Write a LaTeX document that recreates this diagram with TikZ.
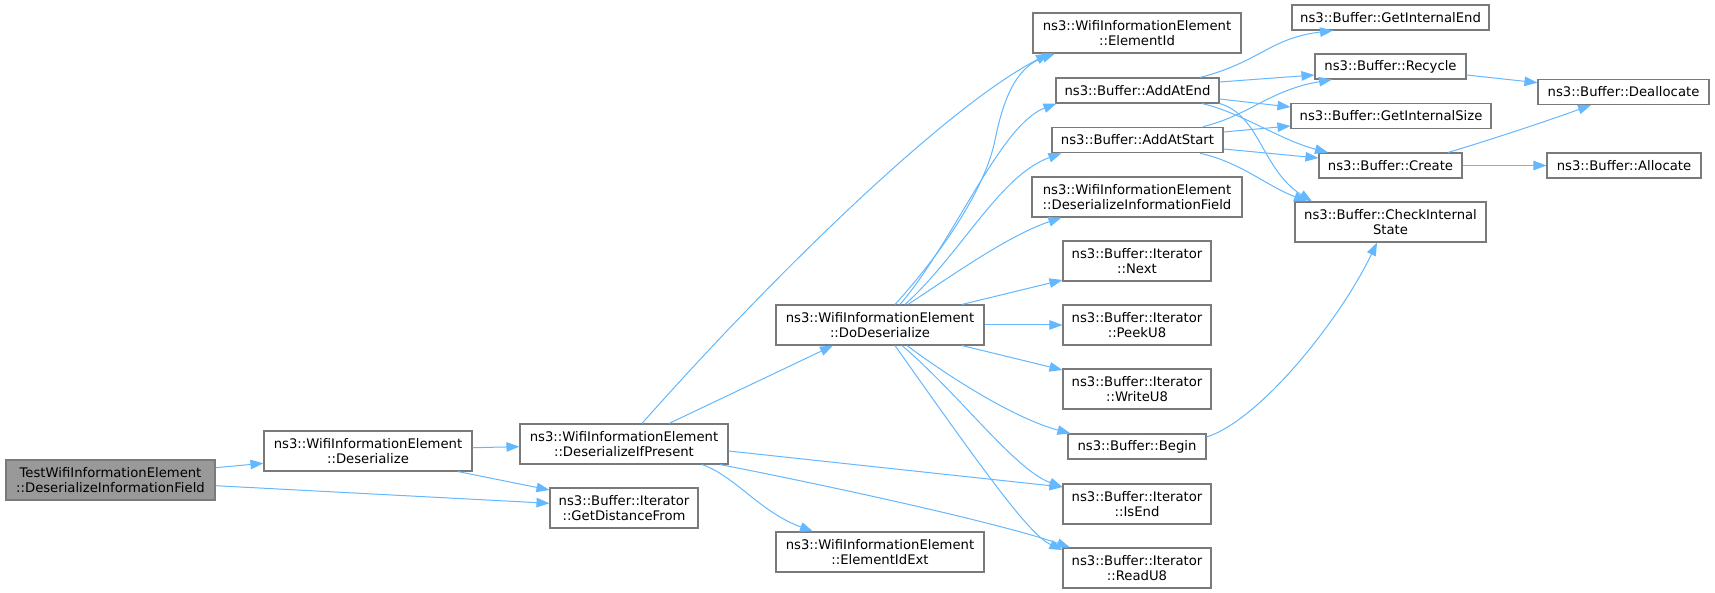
\documentclass[tikz,border=0pt]{standalone}
\usepackage{fontspec}
\setmainfont{DejaVu Sans}
\usetikzlibrary{arrows.meta,calc}
\definecolor{edgecol}{HTML}{63B8FF}
\definecolor{bordercol}{HTML}{7A7A7A}
\definecolor{rootfill}{HTML}{999999}
\begin{document}
\begin{tikzpicture}[x=1pt,y=-1pt,
  box/.style={draw=bordercol,fill=white,line width=1.1pt,align=center,inner sep=0pt,
    font=\fontsize{13.2pt}{14.6pt}\selectfont},
  rootbox/.style={box,fill=rootfill},
  edge/.style={draw=edgecol,line width=1pt,-{Triangle[length=13pt,width=9.5pt]}}]
\useasboundingbox[fill=white] (0,0) rectangle (1715,593);
% column 1-3
\node[rootbox,minimum width=209pt,minimum height=40pt] (Test) at (110.5,480) {TestWifiInformationElement\\::DeserializeInformationField};
\node[box,minimum width=208pt,minimum height=40pt] (Deser) at (368,451) {ns3::WifiInformationElement\\::Deserialize};
\node[box,minimum width=208pt,minimum height=40pt] (DIP) at (624,444) {ns3::WifiInformationElement\\::DeserializeIfPresent};
\node[box,minimum width=148pt,minimum height=40pt] (GDF) at (624,508) {ns3::Buffer::Iterator\\::GetDistanceFrom};
% column 4
\node[box,minimum width=208pt,minimum height=40pt] (DoD) at (880,325) {ns3::WifiInformationElement\\::DoDeserialize};
\node[box,minimum width=208pt,minimum height=40pt] (EIdExt) at (880,552) {ns3::WifiInformationElement\\::ElementIdExt};
% column 5
\node[box,minimum width=208pt,minimum height=40pt] (EId) at (1137,33) {ns3::WifiInformationElement\\::ElementId};
\node[box,minimum width=163pt,minimum height=25pt] (AddEnd) at (1137.5,90.5) {ns3::Buffer::AddAtEnd};
\node[box,minimum width=171pt,minimum height=25.5pt] (AddStart) at (1137.5,140) {ns3::Buffer::AddAtStart};
\node[box,minimum width=210pt,minimum height=40pt] (DIF) at (1137,197) {ns3::WifiInformationElement\\::DeserializeInformationField};
\node[box,minimum width=148pt,minimum height=40pt] (Next) at (1137,261) {ns3::Buffer::Iterator\\::Next};
\node[box,minimum width=148pt,minimum height=40pt] (Peek) at (1137,325) {ns3::Buffer::Iterator\\::PeekU8};
\node[box,minimum width=148pt,minimum height=40pt] (Write) at (1137,389) {ns3::Buffer::Iterator\\::WriteU8};
\node[box,minimum width=138pt,minimum height=25pt] (Begin) at (1137,446.5) {ns3::Buffer::Begin};
\node[box,minimum width=148pt,minimum height=40pt] (IsEnd) at (1137,504) {ns3::Buffer::Iterator\\::IsEnd};
\node[box,minimum width=148pt,minimum height=40pt] (Read) at (1137,568) {ns3::Buffer::Iterator\\::ReadU8};
% column 6
\node[box,minimum width=197pt,minimum height=25pt] (GIE) at (1390.5,17.5) {ns3::Buffer::GetInternalEnd};
\node[box,minimum width=151pt,minimum height=25pt] (Recycle) at (1390.5,66.5) {ns3::Buffer::Recycle};
\node[box,minimum width=200pt,minimum height=25.5pt] (GIS) at (1391,116) {ns3::Buffer::GetInternalSize};
\node[box,minimum width=143pt,minimum height=25pt] (Create) at (1390.5,165.5) {ns3::Buffer::Create};
\node[box,minimum width=191pt,minimum height=40pt] (CIS) at (1390.5,222) {ns3::Buffer::CheckInternal\\State};
% column 7
\node[box,minimum width=171pt,minimum height=25pt] (Dealloc) at (1623.5,92) {ns3::Buffer::Deallocate};
\node[box,minimum width=154pt,minimum height=25pt] (Alloc) at (1624,165.5) {ns3::Buffer::Allocate};
% edges
\draw[edge] ($(Test.east)+(0,-12.3)$) -- ($(Deser.west)+(0,12.3)$);
\draw[edge] ($(Test.east)+(0,5.7)$) -- ($(GDF.west)+(0,-4.7)$);
\draw[edge] ($(Deser.east)+(0,-3.3)$) -- ($(DIP.west)+(0,2.7)$);
\draw[edge] ($(Deser.south)+(90,0)$) -- ($(GDF.west)+(0,-18)$);
\draw[edge] ($(DIP.north)+(45,0)$) -- ($(DoD.south)+(-47,0)$);
\draw[edge] ($(DIP.north)+(18,0)$) .. controls (760,290) and (940,110) .. ($(EId.south)+(-88,0)$);
\draw[edge] ($(DIP.south)+(78,0)$) .. controls (735,476) and (760,512) .. ($(EIdExt.north)+(-67,0)$);
\draw[edge] ($(DIP.east)+(0,7)$) -- ($(IsEnd.west)+(0,-17)$);
\draw[edge] ($(DIP.south)+(96,0)$) .. controls (800,480) and (990,520) .. ($(Read.north)+(-67,0)$);
\draw[edge] ($(DoD.north)+(15,0)$) .. controls (940,255) and (985,190) .. (995,140) .. controls (1005,90) and (1020,66) .. ($(EId.south)+(-82,0)$);
\draw[edge] ($(DoD.north)+(20,0)$) .. controls (955,240) and (1000,125) .. ($(AddEnd.south west)+(1,0)$);
\draw[edge] ($(DoD.north)+(25,0)$) .. controls (960,255) and (1000,175) .. ($(AddStart.south west)+(10,0)$);
\draw[edge] ($(DoD.north)+(28,0)$) .. controls (960,270) and (1010,235) .. ($(DIF.south west)+(30,0)$);
\draw[edge] ($(DoD.north)+(82,0)$) -- ($(Next.west)+(0,19)$);
\draw[edge] (DoD.east) -- (Peek.west);
\draw[edge] ($(DoD.south)+(82,0)$) -- ($(Write.west)+(0,-19)$);
\draw[edge] ($(DoD.south)+(27,0)$) .. controls (960,385) and (1020,420) .. ($(Begin.north west)+(3,0)$);
\draw[edge] ($(DoD.south)+(22,0)$) .. controls (960,395) and (1015,470) .. ($(IsEnd.west)+(0,-17)$);
\draw[edge] ($(DoD.south)+(15,0)$) .. controls (990,480) and (1030,535) .. ($(Read.west)+(0,-18)$);
\draw[edge] ($(AddEnd.north)+(62.5,0)$) .. controls (1260,62) and (1270,38) .. ($(GIE.south)+(-57.5,0)$);
\draw[edge] ($(AddEnd.east)+(0,-8.5)$) -- ($(Recycle.west)+(0,8.5)$);
\draw[edge] ($(AddEnd.east)+(0,8.5)$) -- ($(GIS.west)+(0,-9)$);
\draw[edge] ($(AddEnd.south)+(64.5,0)$) .. controls (1240,112) and (1280,140) .. ($(Create.north)+(-62.5,0)$);
\draw[edge] (AddEnd.south east) .. controls (1260,115) and (1262,170) .. ($(CIS.north)+(-78.5,0)$);
\draw[edge] ($(AddStart.north)+(65.5,0)$) .. controls (1250,115) and (1270,90) .. ($(Recycle.south)+(-58.5,0)$);
\draw[edge] ($(AddStart.east)+(0,-8)$) -- ($(GIS.west)+(0,10)$);
\draw[edge] ($(AddStart.east)+(0,9)$) -- ($(Create.west)+(0,-7.5)$);
\draw[edge] ($(AddStart.south)+(62.5,0)$) .. controls (1240,162) and (1265,185) .. ($(CIS.north)+(-83.5,0)$);
\draw[edge] ($(Recycle.east)+(0,8.5)$) -- ($(Dealloc.west)+(0,-9.3)$);
\draw[edge] ($(Create.north)+(57.5,0)$) .. controls (1490,140) and (1550,120) .. ($(Dealloc.south)+(-32.5,0)$);
\draw[edge] (Create.east) -- (Alloc.west);
\draw[edge] ($(Begin.east)+(0,-9.5)$) .. controls (1260,420) and (1340,320) .. ($(CIS.south)+(-13.5,0)$);
\end{tikzpicture}
\end{document}
